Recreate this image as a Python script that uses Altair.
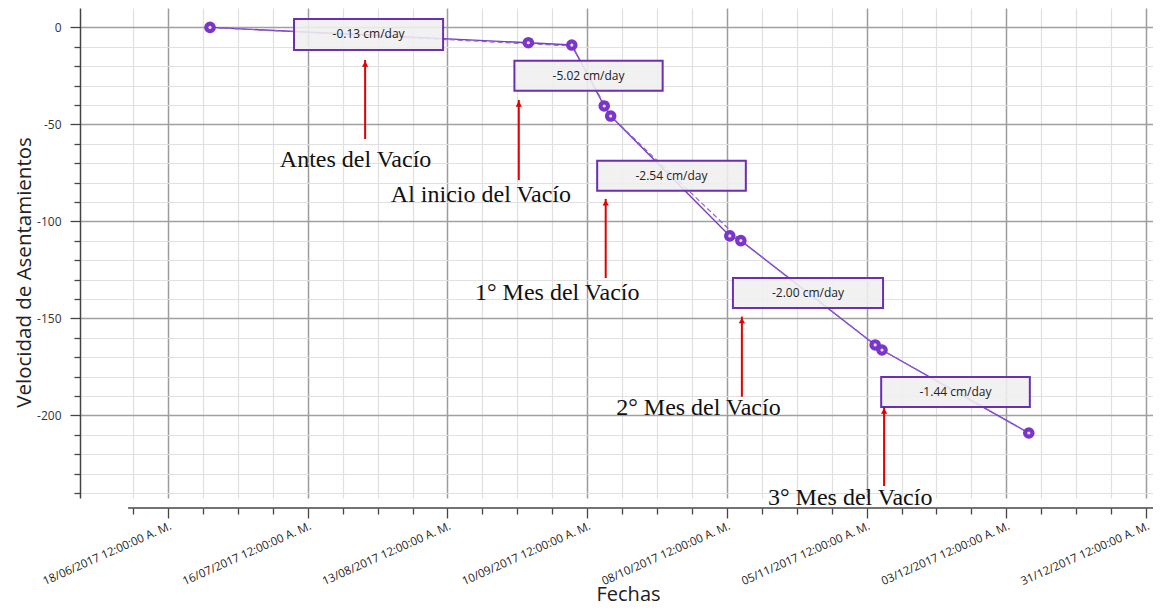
import altair as alt
import pandas as pd

# ---------------- data ----------------
point_dates = ["2017-06-26 10:00", "2017-08-29 05:00", "2017-09-06 22:00", "2017-09-13 10:00",
               "2017-09-14 17:00", "2017-10-08 14:00", "2017-10-10 19:00", "2017-11-06 17:00",
               "2017-11-08 02:00", "2017-12-07 12:00"]
point_values = [0, -7.9, -9.1, -40.5, -45.7, -107.5, -109.9, -163.7, -166.3, -209.1]

trend_dates = ["2017-06-26 10:00", "2017-09-06 22:00", "2017-09-14 17:00", "2017-10-10 19:00",
               "2017-11-08 02:00", "2017-12-07 12:00"]
trend_values = [0, -9.6, -45.7, -109.9, -166.3, -209.1]

rate_labels = ["-0.13 cm/day", "-5.02 cm/day", "-2.54 cm/day", "-2.00 cm/day", "-1.44 cm/day"]
box_start = ["2017-07-13 06:00", "2017-08-26 10:00", "2017-09-12 00:00", "2017-10-09 05:00", "2017-11-07 22:00"]
box_end = ["2017-08-12 03:00", "2017-09-25 03:00", "2017-10-11 19:00", "2017-11-08 07:00", "2017-12-07 17:00"]
box_top = [4.3, -17.2, -68.7, -129.2, -180.2]
box_bottom = [-11.6, -32.6, -84.2, -144.6, -195.7]

arrow_dates = ["2017-07-27 12:00", "2017-08-27 07:00", "2017-09-13 17:00", "2017-10-11 00:00", "2017-11-08 12:00"]
arrow_tip = [-16.8, -37.4, -88.4, -149.1, -195.7]
arrow_base = [-57.5, -78.7, -129.2, -190.4, -236.4]

phase_labels = ["Antes del Vacío", "Al inicio del Vacío", "1° Mes del Vacío", "2° Mes del Vacío", "3° Mes del Vacío"]
phase_dates = ["2017-07-25 14:00", "2017-08-19 17:00", "2017-09-04 00:00", "2017-10-02 07:00", "2017-11-01 17:00"]
phase_values = [-72.0, -89.8, -140.5, -199.8, -246.1]

x_tick_dates = list(pd.date_range("2017-06-11", "2017-12-31", freq="7D").strftime("%Y-%m-%d"))
major_base = "2017-06-18"
y_tick_values = list(range(-240, 1, 10))
x_domain = ["2017-05-31 08:38", "2018-01-01 09:20"]
y_domain = [-242.6, 10]
axis_line_start = ["2017-06-10 00:00"]


def ms(s):
    return int(pd.Timestamp(s, tz="UTC").value // 10**6)


# ---------------- frames ----------------
pts = pd.DataFrame({"date": [ms(d) for d in point_dates], "value": point_values})
trend = pd.DataFrame({"date": [ms(d) for d in trend_dates], "value": trend_values})
boxes = pd.DataFrame({
    "x1": [ms(d) for d in box_start], "x2": [ms(d) for d in box_end],
    "y1": box_top, "y2": box_bottom, "label": rate_labels,
})
boxes["xm"] = (boxes["x1"] + boxes["x2"]) / 2
boxes["ym"] = (boxes["y1"] + boxes["y2"]) / 2
arrows = pd.DataFrame({"date": [ms(d) for d in arrow_dates], "tip": arrow_tip, "base": arrow_base})
phases = pd.DataFrame({"date": [ms(d) for d in phase_dates], "value": phase_values, "label": phase_labels})
axis_line = pd.DataFrame({"x1": [ms(d) for d in axis_line_start], "x2": [ms(x_domain[1])]})

W, H = 1073, 490
base_ms = ms(major_base)
x_cond = f"round((datum.value - {base_ms}) / 86400000) % 28 === 0"
y_cond = "datum.value % 50 === 0"

x_scale = alt.Scale(type="utc", domain=[ms(x_domain[0]), ms(x_domain[1])], nice=False)
y_scale = alt.Scale(domain=y_domain, nice=False, zero=False)

x_axis = alt.Axis(
    values=[ms(d) for d in x_tick_dates],
    domain=False, offset=10,
    labelExpr=f"({x_cond}) ? utcFormat(datum.value, '%d/%m/%Y') + ' 12:00:00 A. M.' : ''",
    labelAngle=336, labelAlign="right", labelBaseline="top", labelPadding=2,
    labelFont="Open Sans", labelFontSize=11.5, labelColor="#222", labelOverlap=False, labelFlush=False,
    tickSize={"condition": {"test": x_cond, "value": 10}, "value": 6},
    tickColor="#444", tickWidth=1.3,
    grid=True,
    gridColor={"condition": {"test": x_cond, "value": "#9c9c9c"}, "value": "#e0e0e0"},
    gridWidth={"condition": {"test": x_cond, "value": 1.5}, "value": 1.2},
    title="Fechas", titleFont="Open Sans", titleFontSize=20, titleFontWeight="normal", titleColor="#222",
    titleX=548, titleY=92, titleAlign="center", titleBaseline="alphabetic",
)
y_axis = alt.Axis(
    values=y_tick_values,
    domain=True, domainColor="#444", domainWidth=1.5,
    labelExpr=f"({y_cond}) ? '' + datum.value : ''",
    labelFont="Open Sans", labelFontSize=12, labelColor="#333", labelPadding=9,
    labelOverlap=False, labelFlush=False,
    tickSize={"condition": {"test": y_cond, "value": 10}, "value": 6},
    tickColor="#444", tickWidth=1.3,
    grid=True,
    gridColor={"condition": {"test": y_cond, "value": "#a0a0a0"}, "value": "#e0e0e0"},
    gridWidth={"condition": {"test": y_cond, "value": 1.5}, "value": 1.2},
    title="Velocidad de Asentamientos", titleFont="Open Sans", titleFontSize=20.5,
    titleFontWeight="normal", titleColor="#222",
    titleAngle=270, titleX=-56, titleY=264, titleAlign="center", titleBaseline="middle",
)


def X(field):
    return alt.X(field, type="temporal", scale=x_scale, axis=x_axis)


def Y(field):
    return alt.Y(field, type="quantitative", scale=y_scale, axis=y_axis)


PURPLE = "#7a36c8"

solid = alt.Chart(pts).mark_line(color=PURPLE, strokeWidth=1.4).encode(x=X("date"), y=Y("value"))
dashed = alt.Chart(trend).mark_line(color="#8d63cf", strokeWidth=1.2, strokeDash=[5, 3]).encode(
    x=X("date"), y=Y("value"))
rects = alt.Chart(boxes).mark_rect(fill="#efefef", fillOpacity=0.88, stroke="#6b2fb3", strokeWidth=2).encode(
    x=X("x1"), x2="x2", y=Y("y1"), y2="y2")
rtext = alt.Chart(boxes).mark_text(font="Open Sans", fontSize=12, color="#222").encode(
    x=X("xm"), y=Y("ym"), text="label")
arrow_lines = alt.Chart(arrows).mark_rule(color="#e00000", strokeWidth=2).encode(
    x=X("date"), y=Y("tip"), y2="base")
arrow_heads = alt.Chart(arrows).mark_point(shape="triangle-up", filled=True, color="#e00000",
                                           size=40, opacity=1, yOffset=4).encode(x=X("date"), y=Y("tip"))
ptext = alt.Chart(phases).mark_text(font="Liberation Serif", fontSize=24, color="#111",
                                    baseline="alphabetic", align="center").encode(
    x=X("date"), y=Y("value"), text="label")
dots = alt.Chart(pts).mark_circle(size=135, color=PURPLE, opacity=1).encode(x=X("date"), y=Y("value"))
dots_in = alt.Chart(pts).mark_circle(size=10, color="#eadff8", opacity=1).encode(x=X("date"), y=Y("value"))
xline = alt.Chart(axis_line).mark_rule(color="#444", strokeWidth=1.5).encode(
    x=X("x1"), x2="x2", y=alt.value(H + 10))

chart = alt.layer(
    solid, dashed, rects, rtext, arrow_lines, arrow_heads, ptext, dots, dots_in, xline
).properties(
    width=W, height=H,
    autosize=alt.AutoSizeParams(type="none"),
    padding={"left": 72, "top": 0, "right": 0, "bottom": 108},
    background="white",
).configure_view(stroke=None)

chart.save("out.html", embed_options={"renderer": "svg", "actions": False})
